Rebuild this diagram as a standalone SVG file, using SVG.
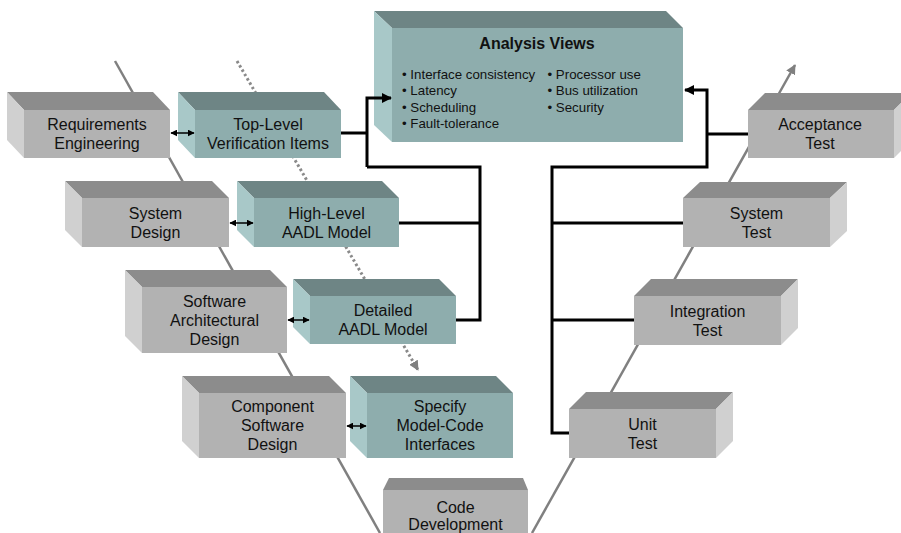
<svg xmlns="http://www.w3.org/2000/svg" width="901" height="533" viewBox="0 0 901 533">
<defs>
<style>
.gf{fill:#b2b2b2}.gt{fill:#8c8c8c}.gs{fill:#d0d0d0}
.tf{fill:#8eadad}.tt{fill:#6e8585}.ts{fill:#a8c8c8}
text{font-family:"Liberation Sans",Arial,sans-serif;font-size:16px;fill:#111;text-anchor:middle}
.b{font-size:13.3px;text-anchor:start}
.h{font-weight:bold}
.v{stroke:#808080;stroke-width:2.5;fill:none}
.dot{stroke:#8a8a8a;stroke-width:3;stroke-dasharray:2.5 2.5;fill:none}
.k{stroke:#000;stroke-width:3;fill:none}
.dbl{stroke:#000;stroke-width:1.5;fill:none;marker-start:url(#sa);marker-end:url(#sa)}
</style>
<marker id="ka" viewBox="0 0 10 10" refX="9" refY="5" markerWidth="10" markerHeight="10" markerUnits="userSpaceOnUse" orient="auto"><path d="M0,0L10,5L0,10z" fill="#000"/></marker>
<marker id="sa" viewBox="0 0 10 10" refX="9" refY="5" markerWidth="7" markerHeight="7" markerUnits="userSpaceOnUse" orient="auto-start-reverse"><path d="M0,0L10,5L0,10z" fill="#000"/></marker>
<marker id="ga" viewBox="0 0 10 10" refX="9" refY="5" markerWidth="10" markerHeight="10" markerUnits="userSpaceOnUse" orient="auto"><path d="M0,0L10,5L0,10z" fill="#808080"/></marker>
</defs>

<g id="background-lines">
<path class="v" d="M115,61L380,533"/>
<path class="v" d="M532,533L795,65" marker-end="url(#ga)"/>
<path class="dot" d="M237,61L418,370" marker-end="url(#ga)"/>
</g>

<g id="analysis-views">
<polygon class="tt" points="392,28 374,11 666,11 683,28"/>
<polygon class="ts" points="392,28 374,11 374,125 392,142"/>
<rect class="tf" x="392" y="28" width="291" height="114"/>
<text class="h" x="537" y="49">Analysis Views</text>
<text class="b" x="402" y="79">• Interface consistency</text>
<text class="b" x="402" y="95">• Latency</text>
<text class="b" x="402" y="111.5">• Scheduling</text>
<text class="b" x="402" y="128">• Fault-tolerance</text>
<text class="b" x="547.5" y="79">• Processor use</text>
<text class="b" x="547.5" y="95">• Bus utilization</text>
<text class="b" x="547.5" y="111.5">• Security</text>
</g>

<g id="requirements-engineering">
<polygon class="gt" points="24,110 7,92 153,92 170,110"/>
<polygon class="gs" points="24,110 7,92 7,140 24,158"/>
<rect class="gf" x="24" y="110" width="146" height="48"/>
<text x="97" y="130">Requirements</text>
<text x="97" y="149">Engineering</text>
</g>

<g id="top-level-verification-items">
<polygon class="tt" points="195,110 178,92 324,92 341,110"/>
<polygon class="ts" points="195,110 178,92 178,140 195,158"/>
<rect class="tf" x="195" y="110" width="146" height="48"/>
<text x="268" y="130">Top-Level</text>
<text x="268" y="149">Verification Items</text>
</g>

<g id="system-design">
<polygon class="gt" points="82,198 65,181 212,181 229,198"/>
<polygon class="gs" points="82,198 65,181 65,230 82,247"/>
<rect class="gf" x="82" y="198" width="147" height="49"/>
<text x="155.5" y="218.5">System</text>
<text x="155.5" y="237.5">Design</text>
</g>

<g id="high-level-aadl-model">
<polygon class="tt" points="254,198 237,181 382,181 399,198"/>
<polygon class="ts" points="254,198 237,181 237,230 254,247"/>
<rect class="tf" x="254" y="198" width="145" height="49"/>
<text x="326.5" y="218.5">High-Level</text>
<text x="326.5" y="237.5">AADL Model</text>
</g>

<g id="software-architectural-design">
<polygon class="gt" points="142,287 125,270 270,270 287,287"/>
<polygon class="gs" points="142,287 125,270 125,336 142,353"/>
<rect class="gf" x="142" y="287" width="145" height="66"/>
<text x="214.5" y="306.5">Software</text>
<text x="214.5" y="325.5">Architectural</text>
<text x="214.5" y="344.5">Design</text>
</g>

<g id="detailed-aadl-model">
<polygon class="tt" points="310,296 293,279 439,279 456,296"/>
<polygon class="ts" points="310,296 293,279 293,327 310,344"/>
<rect class="tf" x="310" y="296" width="146" height="48"/>
<text x="383" y="316">Detailed</text>
<text x="383" y="335">AADL Model</text>
</g>

<g id="component-software-design">
<polygon class="gt" points="199,393 182,376 329,376 346,393"/>
<polygon class="gs" points="199,393 182,376 182,441 199,458"/>
<rect class="gf" x="199" y="393" width="147" height="65"/>
<text x="272.5" y="412">Component</text>
<text x="272.5" y="431">Software</text>
<text x="272.5" y="450">Design</text>
</g>

<g id="specify-model-code-interfaces">
<polygon class="tt" points="367,393 350,376 496,376 513,393"/>
<polygon class="ts" points="367,393 350,376 350,441 367,458"/>
<rect class="tf" x="367" y="393" width="146" height="65"/>
<text x="440" y="412">Specify</text>
<text x="440" y="431">Model-Code</text>
<text x="440" y="450">Interfaces</text>
</g>

<g id="code-development">
<polygon class="gt" points="383,490 389,478 523,478 528,490"/>
<rect class="gf" x="383" y="490" width="145" height="50"/>
<text x="455.5" y="513">Code</text>
<text x="455.5" y="530">Development</text>
</g>

<g id="acceptance-test">
<polygon class="gt" points="748,110 765,93 911,93 894,110"/>
<polygon class="gs" points="894,110 911,93 911,141 894,158"/>
<rect class="gf" x="748" y="110" width="146" height="48"/>
<text x="820" y="130">Acceptance</text>
<text x="820" y="149">Test</text>
</g>

<g id="system-test">
<polygon class="gt" points="683,198 700,182 847,182 830,198"/>
<polygon class="gs" points="830,198 847,182 847,231 830,247"/>
<rect class="gf" x="683" y="198" width="147" height="49"/>
<text x="756.5" y="218.5">System</text>
<text x="756.5" y="237.5">Test</text>
</g>

<g id="integration-test">
<polygon class="gt" points="634,296 651,279 798,279 781,296"/>
<polygon class="gs" points="781,296 798,279 798,328 781,345"/>
<rect class="gf" x="634" y="296" width="147" height="49"/>
<text x="707.5" y="316.5">Integration</text>
<text x="707.5" y="335.5">Test</text>
</g>

<g id="unit-test">
<polygon class="gt" points="569,409 586,392 733,392 716,409"/>
<polygon class="gs" points="716,409 733,392 733,441 716,458"/>
<rect class="gf" x="569" y="409" width="147" height="49"/>
<text x="642.5" y="429.5">Unit</text>
<text x="642.5" y="448.5">Test</text>
</g>

<g id="connectors">
<path class="dbl" d="M171,133H194"/>
<path class="dbl" d="M230,223H253"/>
<path class="dbl" d="M288,320H309"/>
<path class="dbl" d="M347,426H366"/>
<path class="k" d="M341,133H367"/>
<path class="k" d="M367,167V98H391" marker-end="url(#ka)"/>
<path class="k" d="M367,167H480V320H456"/>
<path class="k" d="M399,223H480"/>
<path class="k" d="M748,134H707"/>
<path class="k" d="M569,433H552V167H707V90H685" marker-end="url(#ka)"/>
<path class="k" d="M683,223H552"/>
<path class="k" d="M634,320H552"/>
</g>
</svg>
